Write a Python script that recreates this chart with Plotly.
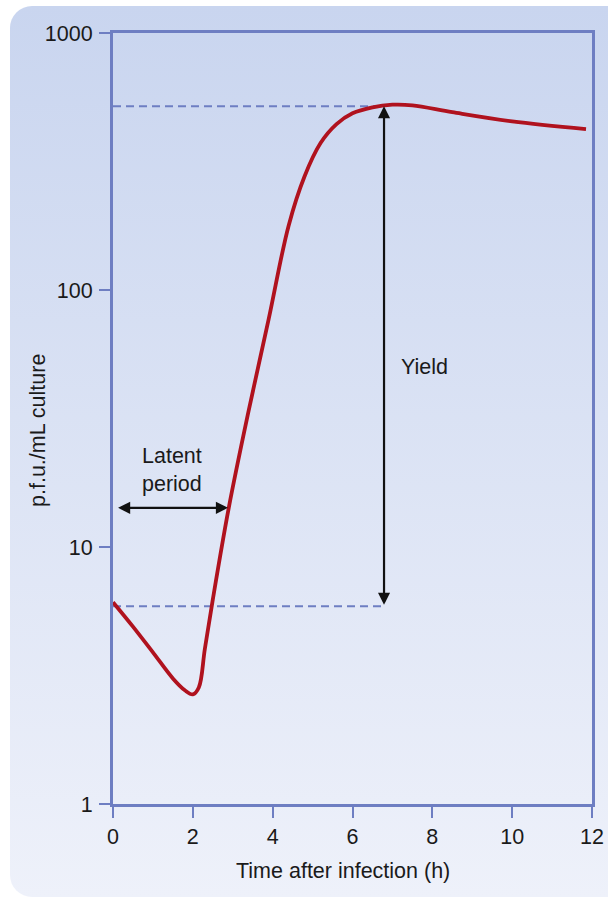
import base64
import numpy as np
import plotly.graph_objects as go

# One-step growth curve of a bacteriophage
time_h = [0.0, 0.5, 1.0, 1.5, 1.8, 2.0, 2.15, 2.3, 2.5, 2.9, 3.4, 3.9,
          4.4, 4.8, 5.2, 5.6, 6.0, 6.5, 7.0, 7.5, 8.5, 10.0, 11.85]
pfu_per_ml = [6.1, 4.9, 3.89, 3.08, 2.77, 2.67, 2.84, 4.0, 6.24, 14.2, 34, 77,
              178, 277, 373, 442, 487, 514, 526, 523, 492, 453, 423]

x_ticks = [0, 2, 4, 6, 8, 10, 12]
y_ticks = [1, 10, 100, 1000]
y_tick_text = ["1", "10", "100", "1000"]

initial_titer = 5.88
final_titer = 519
yield_time = 6.79
latent_level = 14.2
latent_start, latent_end = 0.09, 2.88

FONT = "Liberation Sans, Arial, Helvetica, sans-serif"
FS = 21.5
INK = "#1a1a1a"
AXIS_BLUE = "#6e7ec2"
CURVE_RED = "#b0121e"
W, H = 608, 898
L, R, T, B = 113, 16, 33, 94
PW, PH = W - L - R, H - T - B

# rounded panel with a soft vertical gradient behind the plot
panel_svg = (
    f'<svg xmlns="http://www.w3.org/2000/svg" width="{W}" height="{H}">'
    '<defs><linearGradient id="g" x1="0" y1="0" x2="0" y2="1">'
    '<stop offset="0" stop-color="#c9d5ef"/><stop offset="1" stop-color="#eef1fa"/>'
    '</linearGradient></defs>'
    f'<rect x="10" y="6" width="{W + 30}" height="{H - 7}" rx="22" ry="22" fill="url(#g)"/>'
    '</svg>'
)
panel_src = "data:image/svg+xml;base64," + base64.b64encode(panel_svg.encode()).decode()

fig = go.Figure()

# reference levels for the yield
for level in (final_titer, initial_titer):
    fig.add_trace(go.Scatter(
        x=[0, yield_time], y=[level, level], mode="lines",
        line=dict(color=AXIS_BLUE, width=2, dash="8px,5px"),
        hoverinfo="skip", showlegend=False))

fig.add_trace(go.Scatter(
    x=time_h, y=pfu_per_ml, mode="lines",
    line=dict(color=CURVE_RED, width=3.8, shape="spline", smoothing=1.0),
    showlegend=False))

arrow_common = dict(text="", showarrow=True, axref="x", ayref="y",
                    arrowside="end+start", arrowhead=2, arrowsize=1.1,
                    arrowwidth=2.2, arrowcolor="#111111", standoff=0, startstandoff=0)

fig.add_annotation(x=yield_time, y=np.log10(final_titer),
                   ax=yield_time, ay=np.log10(initial_titer), **arrow_common)
fig.add_annotation(x=latent_end, y=np.log10(latent_level),
                   ax=latent_start, ay=np.log10(latent_level), **arrow_common)

fig.add_annotation(x=1.47, y=1.299, text="Latent<br>period", showarrow=False,
                   font=dict(family=FONT, size=FS, color=INK))
fig.add_annotation(x=7.8, y=1.699, text="Yield", showarrow=False,
                   font=dict(family=FONT, size=FS, color=INK))

# axis titles
fig.add_annotation(xref="paper", yref="paper", x=(343 - L) / PW, y=(H - B - 871) / PH,
                   xanchor="center", yanchor="middle",
                   text="Time after infection (h)", showarrow=False,
                   font=dict(family=FONT, size=FS, color=INK))
fig.add_annotation(xref="paper", yref="paper", x=(38 - L) / PW, y=(H - B - 431) / PH,
                   xanchor="center", yanchor="middle",
                   text="p.f.u./mL culture", textangle=-90, showarrow=False,
                   font=dict(family=FONT, size=FS, color=INK))

axis_common = dict(showgrid=False, zeroline=False, automargin=False,
                   showline=True, mirror=True, linecolor=AXIS_BLUE, linewidth=3,
                   ticks="outside", ticklen=11, tickwidth=2, tickcolor=AXIS_BLUE,
                   tickfont=dict(family=FONT, size=FS, color=INK))

fig.update_layout(
    template="none",
    width=W, height=H,
    margin=dict(l=L, r=R, t=T, b=B, autoexpand=False),
    paper_bgcolor="white", plot_bgcolor="white",
    font=dict(family=FONT, size=FS, color=INK),
    showlegend=False,
    images=[dict(source=panel_src, xref="paper", yref="paper",
                 x=-L / PW, y=1 + T / PH, sizex=W / PW, sizey=H / PH,
                 xanchor="left", yanchor="top", sizing="stretch", layer="below")],
    xaxis=dict(range=[0, 12], tickvals=x_ticks, **axis_common),
    yaxis=dict(type="log", range=[0, 3], tickvals=y_ticks, ticktext=y_tick_text,
               ticklabelstandoff=2, **axis_common),
)

fig.write_html("out.html")
